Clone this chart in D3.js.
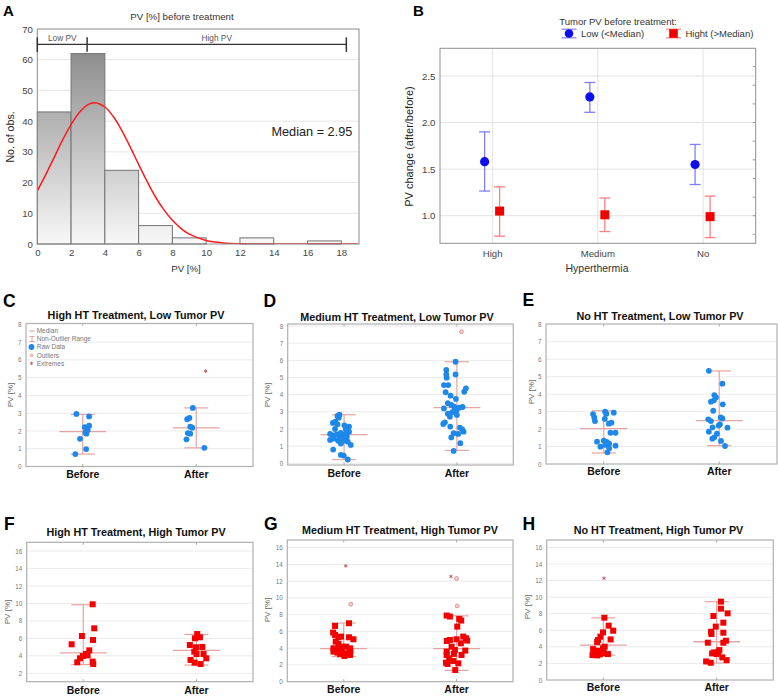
<!DOCTYPE html>
<html><head><meta charset="utf-8">
<script src="https://cdn.jsdelivr.net/npm/d3@7/dist/d3.min.js"></script>
<style>
html,body{margin:0;padding:0;background:#fff;}
svg{display:block;font-family:"Liberation Sans",Arial,Helvetica,sans-serif;}
</style></head><body>
<svg id="chart" width="778" height="696"></svg>
<script>
// ================= DATA =================
// Panel A : histogram of PV before treatment
const histEdges  = [0, 2, 4, 6, 8, 10, 12, 14, 16];
const histCounts = [43, 62, 24, 6, 2, 0, 2, 0, 1];
const binWidth = 2;
const fitX = [0,0.5,1,1.5,2,2.5,3,3.4,4,4.5,5,5.5,6,6.5,7,7.5,8,8.5,9,10,11,12,13,14,16,19];
const fitY = [17.3,22.6,28.2,33.9,38.9,42.9,45.4,46.0,44.6,41.5,37.0,31.6,25.9,20.4,15.3,11.1,7.7,5.1,3.2,1.15,0.35,0.09,0.02,0,0,0];
const histXTicks = [0,2,4,6,8,10,12,14,16,18];
const histYTicks = [0,10,20,30,40,50,60,70];
const medianPV = 2.95;
const pvRangeMax = 18.3;
const bracketLevel = 65;

// Panel B : PV change by hyperthermia
const hyperCats = ["High", "Medium", "No"];
const lowMean  = [1.58, 2.275, 1.55];
const lowLo    = [1.265, 2.11, 1.335];
const lowHi    = [1.90, 2.43, 1.765];
const highMean = [1.05, 1.01, 0.99];
const highLo   = [0.78, 0.83, 0.765];
const highHi   = [1.31, 1.19, 1.21];
const changeTicks = [1.0, 1.5, 2.0, 2.5];

// Panels C-H : raw data [jitter (fraction of band), PV %]
const groups = ["Before", "After"];
const lowTicks = [0,1,2,3,4,5,6,7,8];
const highTicksF = [2,4,6,8,10,12,14,16];
const highTicks = [0,2,4,6,8,10,12,14,16];

const C_before = [[-0.056,2.96],[0.056,2.82],[0.018,2.22],[0.056,2.30],[0.044,2.05],[0.024,1.92],[0.032,1.85],[-0.024,1.56],[0.030,0.98],[-0.065,0.70]];
const C_after  = [[-0.03,3.30],[-0.08,2.66],[-0.06,2.73],[-0.053,2.24],[-0.035,2.18],[-0.074,1.88],[-0.053,1.85],[-0.086,1.53],[0.071,1.05]];
const C_stats  = [[0.70,1.96,2.93],[1.05,2.17,3.30]]; // [low whisker, median, high whisker]
const C_outliers = [];
const C_extremes = [[1,0.083,5.37]];

const D_before = [[-0.041,2.83],[-0.059,2.76],[-0.047,2.66],[-0.077,2.43],[-0.100,2.35],[-0.059,2.27],[0.003,2.21],[0.044,2.14],[0.015,2.00],[-0.080,2.00],[-0.124,1.71],[-0.097,1.63],[-0.065,1.69],[-0.029,1.77],[-0.006,1.67],[0.024,1.77],[0.044,1.84],[-0.124,1.36],[-0.091,1.44],[-0.053,1.32],[-0.018,1.26],[0.012,1.40],[0.032,1.26],[0.059,1.07],[-0.029,1.15],[0,1.50],[-0.097,0.80],[-0.029,0.49],[-0.003,0.45],[0.032,0.22],[-0.041,1.55],[0.024,1.55]];
const D_after  = [[-0.012,5.92],[-0.094,5.44],[-0.094,5.18],[-0.012,5.18],[-0.091,4.99],[-0.115,4.56],[-0.077,4.56],[0.080,4.37],[0.065,4.17],[-0.100,4.14],[-0.056,3.94],[-0.009,3.75],[-0.080,3.50],[-0.050,3.40],[-0.024,3.30],[-0.115,3.20],[0.021,3.24],[0.050,3.28],[-0.003,3.09],[-0.038,2.99],[-0.080,2.89],[0,2.82],[-0.106,2.39],[-0.121,2.29],[-0.059,2.14],[0.027,2.08],[0.047,1.98],[0.059,1.84],[-0.029,1.75],[0.012,1.71],[-0.050,1.51],[0.030,1.17],[-0.029,0.72],[-0.062,2.72]];
const D_stats  = [[0.22,1.67,2.83],[0.75,3.25,5.92]];
const D_outliers = [[1,0.041,7.67]];
const D_extremes = [];

const E_before = [[-0.093,2.86],[-0.082,2.67],[-0.076,2.46],[0.012,3.00],[0.023,2.88],[0.087,2.94],[0.009,2.58],[0.067,2.37],[0.044,2.31],[0.058,1.79],[0.102,1.79],[-0.058,1.28],[0,1.34],[0.026,1.26],[0.047,1.16],[-0.029,0.99],[0.012,1.09],[0.102,1.05],[0.047,0.90],[0.032,0.67]];
const E_after  = [[-0.090,5.34],[0.027,4.60],[-0.043,3.95],[-0.028,3.82],[-0.072,3.57],[-0.046,3.65],[0.030,3.42],[-0.052,3.05],[-0.095,2.56],[-0.072,2.46],[0.012,2.67],[0.027,2.61],[0.006,2.27],[-0.005,2.21],[-0.058,2.10],[0.071,2.08],[-0.090,1.85],[-0.020,1.74],[-0.043,1.53],[-0.060,1.45],[0.015,1.32],[0.050,1.03]];
const E_stats  = [[0.63,2.03,3.05],[1.05,2.48,5.33]];
const E_outliers = [];
const E_extremes = [];

const F_before = [[0.083,9.90],[0.097,7.15],[-0.012,6.27],[0.086,5.82],[-0.103,5.32],[0.053,4.63],[0.024,4.21],[-0.003,3.98],[0.038,4.06],[-0.029,3.72],[-0.053,3.26],[0.083,3.34],[0.088,3.07]];
const F_after  = [[0.007,6.50],[0.031,6.12],[-0.013,6.01],[-0.058,5.24],[-0.004,4.98],[0.052,5.02],[-0.019,4.48],[0.001,4.21],[0.063,4.21],[0.087,3.72],[-0.052,3.53],[-0.016,3.22],[0.037,3.07]];
const F_stats  = [[3.0,4.35,9.85],[2.95,4.63,6.45]];
const F_outliers = [];
const F_extremes = [];

const G_before = [[0.047,6.97],[-0.077,6.65],[-0.094,5.86],[-0.077,5.58],[-0.047,5.30],[-0.024,5.38],[0.047,5.30],[0.086,5.06],[-0.071,4.78],[-0.047,4.50],[-0.091,3.98],[-0.068,3.78],[-0.018,4.18],[0.021,4.18],[0.056,3.98],[-0.091,3.59],[-0.056,3.47],[-0.018,3.59],[0.027,3.39],[0.059,3.59],[0.006,3.07],[0.056,3.19],[-0.032,3.27]];
const G_after  = [[-0.088,7.89],[-0.059,7.77],[0.024,7.49],[0.041,7.29],[0.006,6.57],[-0.086,4.86],[-0.059,4.98],[0,5.06],[0.059,5.38],[0.083,5.18],[0.094,4.90],[0.038,4.58],[-0.044,4.18],[-0.088,3.59],[-0.015,3.78],[0.077,3.71],[-0.088,3.19],[-0.024,3.31],[0.044,3.19],[-0.065,2.79],[-0.094,2.27],[-0.080,2.11],[0.015,2.19],[-0.029,2.47],[-0.012,1.39]];
const G_stats  = [[3.0,3.94,7.0],[1.35,3.94,7.85]];
const G_outliers = [[0,0.062,9.24],[1,0,12.31],[1,0.006,9.04]];
const G_extremes = [[0,0.018,13.82],[1,-0.050,12.55]];

const H_before = [[0.009,7.52],[0.047,6.56],[0.087,5.95],[-0.003,5.75],[-0.026,5.23],[-0.047,4.82],[-0.055,4.58],[0.064,4.90],[-0.090,3.73],[-0.047,3.53],[-0.003,3.81],[0.012,4.02],[-0.067,3.17],[-0.032,3.09],[0.006,3.21],[-0.096,3.01],[-0.055,2.97],[0.041,3.13],[-0.017,3.41]];
const H_after  = [[0.038,9.46],[0.038,8.61],[0.097,8.05],[-0.029,7.73],[0.059,6.92],[-0.008,6.44],[-0.049,5.83],[-0.046,5.55],[0.059,5.71],[0.082,4.74],[0.059,4.50],[-0.078,4.50],[-0.040,3.21],[-0.023,3.33],[0.015,3.41],[0.024,3.61],[0,3.13],[0.050,2.73],[0.088,2.40],[-0.093,2.24],[-0.052,2.08]];
const H_stats  = [[3.0,4.22,7.5],[2.05,4.62,9.45]];
const H_outliers = [];
const H_extremes = [[0,0.006,12.28]];

// ================= DRAW =================
const svg = d3.select("#chart");
const defs = svg.append("defs");

function letter(t, x, y, size) {
  svg.append("text").attr("x", x).attr("y", y).attr("font-size", size)
    .attr("font-weight", "bold").attr("fill", "#000").text(t);
}
function styleAxis(sel, size, color, weight) {
  sel.select(".domain").remove();
  sel.selectAll("line").remove();
  sel.selectAll("text").attr("font-size", size).attr("fill", color)
    .attr("font-family", '"Liberation Sans", Arial, sans-serif')
    .attr("font-weight", weight || "normal");
}

// ---------- Panel A ----------
(function () {
  const L = 37.3, R = 359, T = 29, B = 244;
  const x = d3.scaleLinear().domain([0, 19.05]).range([L, R]);
  const y = d3.scaleLinear().domain([0, 70]).range([B, T]);
  const g = svg.append("g");
  const grad = defs.append("linearGradient").attr("id", "barGrad")
    .attr("gradientUnits", "userSpaceOnUse")
    .attr("x1", 0).attr("x2", 0).attr("y1", y(0)).attr("y2", y(62));
  grad.append("stop").attr("offset", 0).attr("stop-color", "#f8f8f8");
  grad.append("stop").attr("offset", 1).attr("stop-color", "#8e8e8e");
  defs.append("clipPath").attr("id", "clipA").append("rect")
    .attr("x", L).attr("y", T).attr("width", R - L).attr("height", B - T);

  g.selectAll(".gy").data(histYTicks.filter(d => d > 0 && d < 70)).join("line")
    .attr("x1", L).attr("x2", R).attr("y1", d => y(d)).attr("y2", d => y(d))
    .attr("stroke", "#e6e6e6").attr("stroke-width", 1);

  const bins = histEdges.map((e, i) => ({ x0: e, x1: e + binWidth, n: histCounts[i] })).filter(d => d.n > 0);
  g.selectAll(".bar").data(bins).join("rect")
    .attr("x", d => x(d.x0)).attr("width", d => x(d.x1) - x(d.x0))
    .attr("y", d => y(d.n)).attr("height", d => y(0) - y(d.n))
    .attr("fill", "url(#barGrad)").attr("stroke", "#737373").attr("stroke-width", 1);

  const line = d3.line().x(d => x(d[0])).y(d => y(d[1])).curve(d3.curveCatmullRom);
  g.append("path").datum(fitX.map((v, i) => [v, fitY[i]]))
    .attr("d", line).attr("fill", "none").attr("stroke", "#ff1a1a")
    .attr("stroke-width", 1.5).attr("clip-path", "url(#clipA)");

  g.append("rect").attr("x", L).attr("y", T).attr("width", R - L).attr("height", B - T)
    .attr("fill", "none").attr("stroke", "#8a8a8a").attr("stroke-width", 1);

  // bracket
  const by = y(bracketLevel);
  g.append("line").attr("x1", x(0)).attr("x2", x(pvRangeMax)).attr("y1", by).attr("y2", by)
    .attr("stroke", "#333").attr("stroke-width", 1.2);
  [0, medianPV, pvRangeMax].forEach(v => {
    g.append("line").attr("x1", x(v)).attr("x2", x(v)).attr("y1", by - 7).attr("y2", by + 7.5)
      .attr("stroke", "#333").attr("stroke-width", 1.5);
  });
  g.append("text").attr("x", x(medianPV / 2)).attr("y", by - 3.5).attr("text-anchor", "middle")
    .attr("font-size", 8.3).attr("fill", "#555").text("Low PV");
  g.append("text").attr("x", x((medianPV + pvRangeMax) / 2)).attr("y", by - 3.5).attr("text-anchor", "middle")
    .attr("font-size", 8.3).attr("fill", "#555").text("High PV");

  g.append("text").attr("x", 271.5).attr("y", 136).attr("font-size", 12.7).attr("fill", "#222")
    .text("Median = " + medianPV);

  const ya = g.append("g").attr("transform", `translate(${L},0)`)
    .call(d3.axisLeft(y).tickValues(histYTicks).tickSize(0).tickPadding(4.5));
  styleAxis(ya, 9.6, "#444");
  const xa = g.append("g").attr("transform", `translate(0,${B})`)
    .call(d3.axisBottom(x).tickValues(histXTicks).tickSize(0).tickPadding(5));
  styleAxis(xa, 9.6, "#444");

  g.append("text").attr("x", 182).attr("y", 20).attr("text-anchor", "middle")
    .attr("font-size", 9.7).attr("fill", "#333").text("PV [%] before treatment");
  g.append("text").attr("transform", "translate(14,137) rotate(-90)").attr("text-anchor", "middle")
    .attr("font-size", 10.6).attr("fill", "#222").text("No. of obs.");
  g.append("text").attr("x", 186).attr("y", 272).attr("text-anchor", "middle")
    .attr("font-size", 9.7).attr("fill", "#333").text("PV [%]");
  letter("A", 3, 15.5, 15);
})();

// ---------- Panel B ----------
(function () {
  const L = 440, R = 755.7, T = 48.3, B = 243.3;
  const x = d3.scaleBand().domain(hyperCats).range([L, R]);
  const y = d3.scaleLinear().domain([0.704, 2.797]).range([B, T]);
  const g = svg.append("g");
  const cx = c => x(c) + x.bandwidth() / 2;

  g.selectAll(".gx").data(hyperCats).join("line")
    .attr("x1", d => cx(d)).attr("x2", d => cx(d)).attr("y1", T).attr("y2", B)
    .attr("stroke", "#e2e2e2");
  g.selectAll(".gy").data(changeTicks).join("line")
    .attr("x1", L).attr("x2", R).attr("y1", d => y(d)).attr("y2", d => y(d))
    .attr("stroke", "#e2e2e2");
  g.append("rect").attr("x", L).attr("y", T).attr("width", R - L).attr("height", B - T)
    .attr("fill", "none").attr("stroke", "#8f8f8f").attr("stroke-width", 1);
  d3.range(0.8, 2.8, 0.2).forEach(v => {
    g.append("line").attr("x1", R - 3).attr("x2", R).attr("y1", y(v)).attr("y2", y(v)).attr("stroke", "#999");
  });

  const series = [
    { mean: lowMean, lo: lowLo, hi: lowHi, off: -8, bar: "#7f7fff", fill: "#0d0df2", shape: "circle" },
    { mean: highMean, lo: highLo, hi: highHi, off: 7, bar: "#ff7f7f", fill: "#f20000", shape: "square" }
  ];
  series.forEach(s => {
    hyperCats.forEach((c, i) => {
      const px = cx(c) + s.off;
      g.append("line").attr("x1", px).attr("x2", px).attr("y1", y(s.lo[i])).attr("y2", y(s.hi[i]))
        .attr("stroke", s.bar).attr("stroke-width", 1.3);
      [s.lo[i], s.hi[i]].forEach(v => g.append("line").attr("x1", px - 5.5).attr("x2", px + 5.5)
        .attr("y1", y(v)).attr("y2", y(v)).attr("stroke", s.bar).attr("stroke-width", 1.3));
      if (s.shape === "circle") g.append("circle").attr("cx", px).attr("cy", y(s.mean[i])).attr("r", 4.6).attr("fill", s.fill);
      else g.append("rect").attr("x", px - 4.5).attr("y", y(s.mean[i]) - 4.5).attr("width", 9).attr("height", 9).attr("fill", s.fill);
    });
  });

  const ya = g.append("g").attr("transform", `translate(${L},0)`)
    .call(d3.axisLeft(y).tickValues(changeTicks).tickFormat(d3.format(".1f")).tickSize(0).tickPadding(4.5));
  styleAxis(ya, 9.7, "#444");
  const xa = g.append("g").attr("transform", `translate(0,${B})`)
    .call(d3.axisBottom(x).tickSize(0).tickPadding(6.5));
  styleAxis(xa, 9.6, "#444");

  g.append("text").attr("transform", "translate(412.5,146.5) rotate(-90)").attr("text-anchor", "middle")
    .attr("font-size", 11).attr("fill", "#222").text("PV change (after/before)");
  g.append("text").attr("x", 597).attr("y", 272).attr("text-anchor", "middle")
    .attr("font-size", 10.5).attr("fill", "#333").text("Hyperthermia");

  // legend
  g.append("text").attr("x", 618).attr("y", 24.5).attr("text-anchor", "middle")
    .attr("font-size", 9.5).attr("fill", "#333").text("Tumor PV before treatment:");
  const leg = [
    { x: 569, label: "Low (<Median)", s: series[0] },
    { x: 673.5, label: "Hight (>Median)", s: series[1] }
  ];
  leg.forEach(l => {
    const ly = 33.5;
    [ly - 4.3, ly + 4.3].forEach(v => g.append("line").attr("x1", l.x - 7.5).attr("x2", l.x + 7.5)
      .attr("y1", v).attr("y2", v).attr("stroke", l.s.bar).attr("stroke-width", 1.2));
    g.append("line").attr("x1", l.x).attr("x2", l.x).attr("y1", ly - 4.3).attr("y2", ly + 4.3)
      .attr("stroke", l.s.bar).attr("stroke-width", 1.2);
    if (l.s.shape === "circle") g.append("circle").attr("cx", l.x).attr("cy", ly).attr("r", 4.3).attr("fill", l.s.fill);
    else g.append("rect").attr("x", l.x - 4.3).attr("y", ly - 4.3).attr("width", 8.6).attr("height", 8.6).attr("fill", l.s.fill);
    g.append("text").attr("x", l.x + 12).attr("y", ly + 3.4).attr("font-size", 9.5).attr("fill", "#333").text(l.label);
  });
  letter("B", 413, 15.5, 15);
})();

// ---------- Panels C-H ----------
const panels = [
  { id: "C", title: "High HT Treatment, Low Tumor PV", frame: [26, 253, 323.5, 466.5], yDom: [0, 8.05], ticks: lowTicks,
    raw: [C_before, C_after], stats: C_stats, outl: C_outliers, extr: C_extremes, color: "#1e88ea", shape: "circle",
    letterPos: [3, 306.5], titlePos: [136, 319.3], catPad: 4.3, ylab: [12.5, 395], legend: true },
  { id: "D", title: "Medium HT Treatment, Low Tumor PV", frame: [287.7, 513.3, 324, 465], yDom: [-0.1, 8.12], ticks: lowTicks,
    raw: [D_before, D_after], stats: D_stats, outl: D_outliers, extr: D_extremes, color: "#1e88ea", shape: "circle",
    letterPos: [263.5, 306.5], titlePos: [397, 321], catPad: 4.2, ylab: [270, 395] },
  { id: "E", title: "No HT Treatment, Low Tumor PV", frame: [546, 777, 324, 464], yDom: [0, 8.02], ticks: lowTicks,
    raw: [E_before, E_after], stats: E_stats, outl: E_outliers, extr: E_extremes, color: "#1e88ea", shape: "circle",
    letterPos: [522.5, 306], titlePos: [660, 320.3], catPad: 3.6, ylab: [533.5, 392] },
  { id: "F", title: "High HT Treatment, High Tumor PV", frame: [26.7, 253, 542.3, 681.7], yDom: [1.04, 17.0], ticks: highTicksF,
    raw: [F_before, F_after], stats: F_stats, outl: F_outliers, extr: F_extremes, color: "#f40000", shape: "square",
    letterPos: [4, 530], titlePos: [136, 536], catPad: 5, ylab: [10, 612] },
  { id: "G", title: "Medium HT Treatment, High Tumor PV", frame: [287.3, 513, 540, 681.7], yDom: [0, 16.9], ticks: highTicks,
    raw: [G_before, G_after], stats: G_stats, outl: G_outliers, extr: G_extremes, color: "#f40000", shape: "square",
    letterPos: [264, 530], titlePos: [400, 534.3], catPad: 3.6, ylab: [270, 610] },
  { id: "H", title: "No HT Treatment, High Tumor PV", frame: [546.7, 773.3, 540, 680], yDom: [0, 16.9], ticks: highTicks,
    raw: [H_before, H_after], stats: H_stats, outl: H_outliers, extr: H_extremes, color: "#f40000", shape: "square",
    letterPos: [522.5, 530], titlePos: [658.5, 534.3], catPad: 3.3, ylab: [530, 607] }
];

const whisk = "#e6a3a3";
panels.forEach(p => {
  const [L, R, T, B] = p.frame;
  const g = svg.append("g");
  const x = d3.scaleBand().domain(groups).range([L, R]);
  const y = d3.scaleLinear().domain(p.yDom).range([B, T]);
  const bw = x.bandwidth();
  const jx = d3.scaleLinear().domain([-0.5, 0.5]).range([-bw / 2, bw / 2]);
  const cx = c => x(c) + bw / 2;

  g.selectAll(".gy").data(p.ticks.filter(t => y(t) < B - 1 && y(t) > T + 1)).join("line")
    .attr("x1", L).attr("x2", R).attr("y1", d => y(d)).attr("y2", d => y(d))
    .attr("stroke", "#ebebeb").attr("stroke-width", 1);
  g.append("rect").attr("x", L).attr("y", T).attr("width", R - L).attr("height", B - T)
    .attr("fill", "none").attr("stroke", "#b0b0b0").attr("stroke-width", 1.2);
  groups.forEach(c => {
    g.append("line").attr("x1", cx(c)).attr("x2", cx(c)).attr("y1", T).attr("y2", T + 2.5).attr("stroke", "#aaa");
    g.append("line").attr("x1", cx(c)).attr("x2", cx(c)).attr("y1", B).attr("y2", B - 2.5).attr("stroke", "#aaa");
  });

  groups.forEach((c, i) => {
    const [lo, med, hi] = p.stats[i];
    const px = cx(c);
    g.append("line").attr("x1", px).attr("x2", px).attr("y1", y(lo)).attr("y2", y(hi)).attr("stroke", whisk).attr("stroke-width", 1.2);
    [lo, hi].forEach(v => g.append("line").attr("x1", px - 12).attr("x2", px + 12)
      .attr("y1", y(v)).attr("y2", y(v)).attr("stroke", whisk).attr("stroke-width", 1.2));
    g.append("line").attr("x1", px - 23.5).attr("x2", px + 23.5).attr("y1", y(med)).attr("y2", y(med))
      .attr("stroke", whisk).attr("stroke-width", 1.3);
  });

  groups.forEach((c, i) => {
    const pts = p.raw[i];
    if (p.shape === "circle") {
      g.selectAll(null).data(pts).join("circle")
        .attr("cx", d => cx(c) + jx(d[0])).attr("cy", d => y(d[1])).attr("r", 2.9).attr("fill", p.color);
    } else {
      g.selectAll(null).data(pts).join("rect")
        .attr("x", d => cx(c) + jx(d[0]) - 3).attr("y", d => y(d[1]) - 3)
        .attr("width", 6).attr("height", 6).attr("fill", p.color);
    }
  });
  p.outl.forEach(o => {
    g.append("circle").attr("cx", cx(groups[o[0]]) + jx(o[1])).attr("cy", y(o[2])).attr("r", 1.9)
      .attr("fill", "#f6cccc").attr("stroke", "#dc8c8c").attr("stroke-width", 0.9);
  });
  p.extr.forEach(o => {
    g.append("path").attr("transform", `translate(${cx(groups[o[0]]) + jx(o[1])},${y(o[2])})`)
      .attr("d", d3.symbol(d3.symbolAsterisk, 9)()).attr("fill", "none").attr("stroke", "#cf5c5c").attr("stroke-width", 1);
  });

  const ya = g.append("g").attr("transform", `translate(${L},0)`)
    .call(d3.axisLeft(y).tickValues(p.ticks).tickSize(0).tickPadding(4.5));
  styleAxis(ya, 6.3, "#7a7a7a");
  const xa = g.append("g").attr("transform", `translate(0,${B})`)
    .call(d3.axisBottom(x).tickSize(0).tickPadding(p.catPad));
  styleAxis(xa, 10.5, "#111", "bold");

  g.append("text").attr("x", p.titlePos[0]).attr("y", p.titlePos[1]).attr("text-anchor", "middle")
    .attr("font-size", 10.8).attr("font-weight", "bold").attr("fill", "#111").text(p.title);
  g.append("text").attr("transform", `translate(${p.ylab[0]},${p.ylab[1]}) rotate(-90)`).attr("text-anchor", "middle")
    .attr("font-size", 8).attr("fill", "#666").text("PV [%]");
  letter(p.id, p.letterPos[0], p.letterPos[1], 17.5);

  if (p.legend) {
    const lx = 31.5, tx = 36.7;
    const rows = [["Median", 331], ["Non-Outlier Range", 339], ["Raw Data", 347], ["Outliers", 355.3], ["Extremes", 363.3]];
    rows.forEach(r => g.append("text").attr("x", tx).attr("y", r[1] + 2.3).attr("font-size", 6.5).attr("fill", "#777").text(r[0]));
    g.append("line").attr("x1", lx - 2).attr("x2", lx + 3).attr("y1", 331).attr("y2", 331).attr("stroke", whisk).attr("stroke-width", 1.2);
    g.append("line").attr("x1", lx + 0.5).attr("x2", lx + 0.5).attr("y1", 336.5).attr("y2", 341.5).attr("stroke", whisk);
    [336.5, 341.5].forEach(v => g.append("line").attr("x1", lx - 2).attr("x2", lx + 3).attr("y1", v).attr("y2", v).attr("stroke", whisk));
    g.append("circle").attr("cx", lx).attr("cy", 347).attr("r", 2.9).attr("fill", p.color);
    g.append("circle").attr("cx", lx).attr("cy", 355.3).attr("r", 1.5).attr("fill", "#f6cccc").attr("stroke", "#e2a0a0").attr("stroke-width", 0.7);
    g.append("path").attr("transform", `translate(${lx},363.3)`).attr("d", d3.symbol(d3.symbolAsterisk, 7)())
      .attr("fill", "none").attr("stroke", "#cf5c5c").attr("stroke-width", 0.9);
  }
});
</script>
</body></html>
